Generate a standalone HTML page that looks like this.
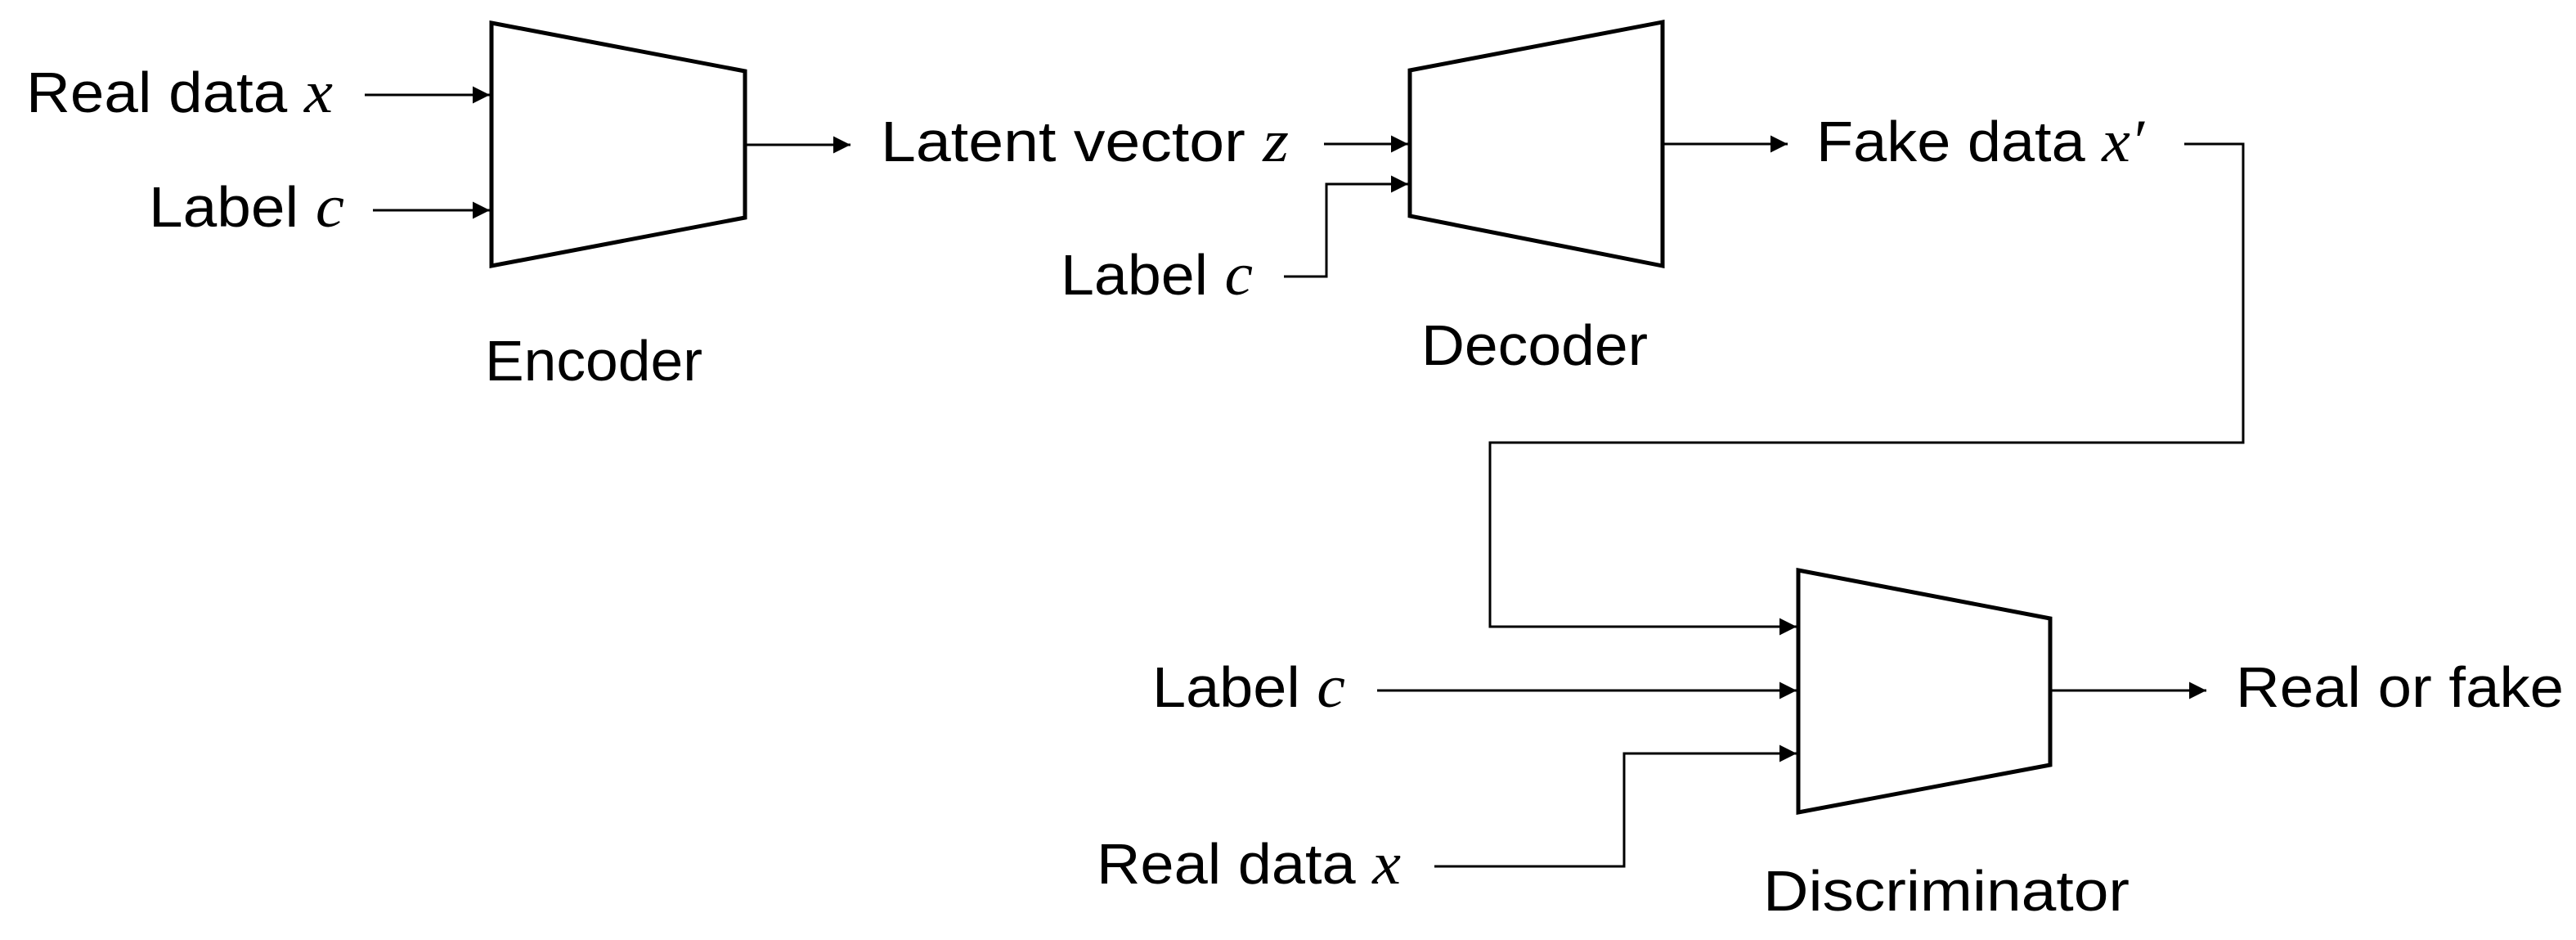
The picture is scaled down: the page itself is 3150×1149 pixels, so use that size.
<!DOCTYPE html>
<html><head><meta charset="utf-8"><style>
html,body{margin:0;padding:0;background:#fff;}
svg{display:block;}
text{font-family:"Liberation Sans",sans-serif;font-size:70px;fill:#000;}
.m{font-family:"Liberation Serif",serif;font-style:italic;font-size:74px;}
</style></head><body>
<svg width="3150" height="1149" viewBox="0 0 3150 1149" xmlns="http://www.w3.org/2000/svg">
<defs><marker id="a" viewBox="0 0 10 10" refX="10" refY="5" markerWidth="7" markerHeight="7" markerUnits="strokeWidth" orient="auto"><path d="M0,0L10,5L0,10z" fill="#000"/></marker></defs>
<g fill="none" stroke="#000" stroke-width="5">
<polygon points="601,28 911,87 911,266 601,325"/>
<polygon points="1724,86 2033,27 2033,325 1724,264"/>
<polygon points="2199,697 2507,756 2507,935 2199,993"/>
</g>
<g fill="none" stroke="#000" stroke-width="3">
<line x1="446" y1="116" x2="599" y2="116" marker-end="url(#a)"/>
<line x1="456" y1="257" x2="599" y2="257" marker-end="url(#a)"/>
<line x1="911" y1="177" x2="1040" y2="177" marker-end="url(#a)"/>
<line x1="1619" y1="176" x2="1722" y2="176" marker-end="url(#a)"/>
<polyline points="1570,338 1622,338 1622,225 1722,225" marker-end="url(#a)"/>
<line x1="2033" y1="176" x2="2186" y2="176" marker-end="url(#a)"/>
<polyline points="2671,176 2743,176 2743,541 1822,541 1822,766 2197,766" marker-end="url(#a)"/>
<line x1="1684" y1="844" x2="2197" y2="844" marker-end="url(#a)"/>
<polyline points="1754,1059 1986,1059 1986,921 2197,921" marker-end="url(#a)"/>
<line x1="2507" y1="844" x2="2698" y2="844" marker-end="url(#a)"/>
</g>
<text x="32" y="137" textLength="375" lengthAdjust="spacingAndGlyphs">Real data <tspan class="m">x</tspan></text>
<text x="182" y="277" textLength="239" lengthAdjust="spacingAndGlyphs">Label <tspan class="m">c</tspan></text>
<text x="593" y="465" textLength="266" lengthAdjust="spacingAndGlyphs">Encoder</text>
<text x="1077" y="197" textLength="499" lengthAdjust="spacingAndGlyphs">Latent vector <tspan class="m">z</tspan></text>
<text x="1297" y="360" textLength="235" lengthAdjust="spacingAndGlyphs">Label <tspan class="m">c</tspan></text>
<text x="1738" y="446" textLength="277" lengthAdjust="spacingAndGlyphs">Decoder</text>
<text x="2221" y="197" textLength="401" lengthAdjust="spacingAndGlyphs">Fake data <tspan class="m">x′</tspan></text>
<text x="1409" y="864" textLength="236" lengthAdjust="spacingAndGlyphs">Label <tspan class="m">c</tspan></text>
<text x="1341" y="1080" textLength="372" lengthAdjust="spacingAndGlyphs">Real data <tspan class="m">x</tspan></text>
<text x="2734" y="864" textLength="401" lengthAdjust="spacingAndGlyphs">Real or fake</text>
<text x="2156" y="1113" textLength="448" lengthAdjust="spacingAndGlyphs">Discriminator</text>
</svg>
</body></html>
